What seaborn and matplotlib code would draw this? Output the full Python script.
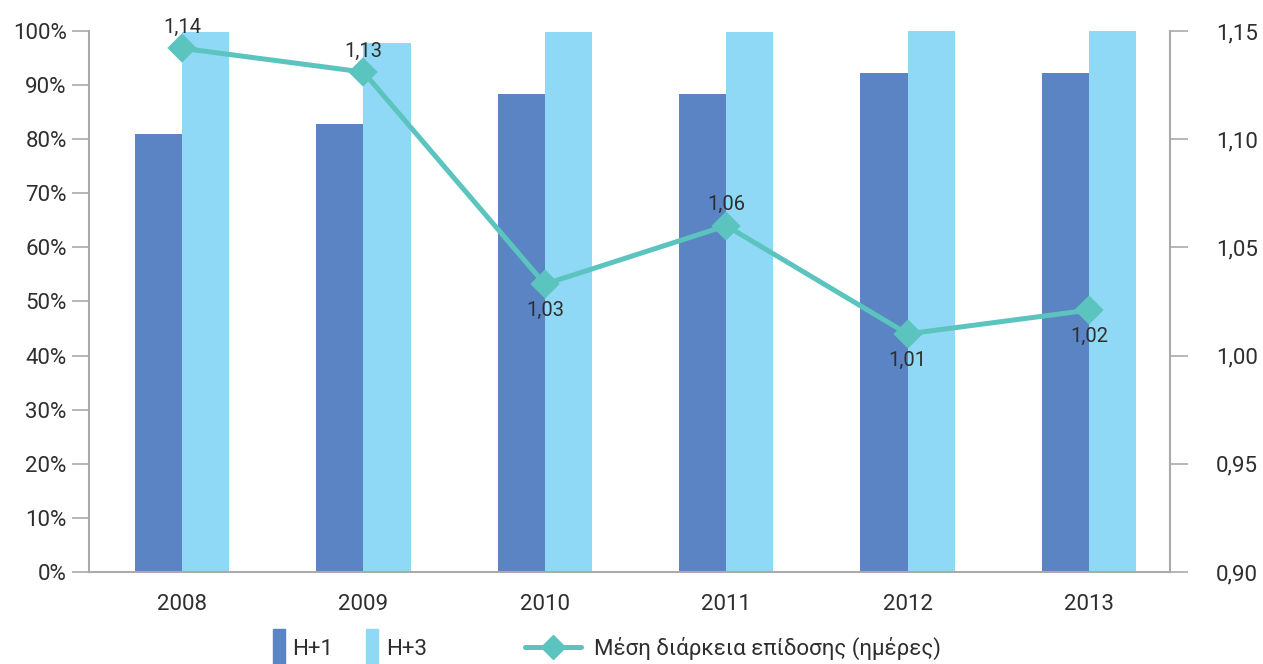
import pandas as pd
import numpy as np
import seaborn as sns
import matplotlib.pyplot as plt
from matplotlib.ticker import FuncFormatter, MultipleLocator
from matplotlib.patches import Patch
from matplotlib.lines import Line2D

years = ['2008', '2009', '2010', '2011', '2012', '2013']
h1 = [81.0, 82.8, 88.4, 88.4, 92.2, 92.2]
h3 = [99.8, 97.8, 99.8, 99.8, 100.0, 100.0]
duration = [1.142, 1.131, 1.033, 1.06, 1.01, 1.021]
dur_labels = ['1,14', '1,13', '1,03', '1,06', '1,01', '1,02']
label_above = [True, True, False, True, False, False]

c_h1 = '#5b84c4'
c_h3 = '#8fd9f6'
c_line = '#5bc4bf'
txt = '#2e2e2e'
spine = '#aaaaaa'

sns.set_style('white')
plt.rcParams['font.family'] = ['Roboto', 'DejaVu Sans']

df = pd.DataFrame({'year': years * 2,
                   'value': h1 + h3,
                   'series': ['H+1'] * 6 + ['H+3'] * 6})

fig = plt.figure(figsize=(12.63, 6.64), dpi=100)
ax = fig.add_axes([0.0705, 0.1386, 0.8559, 0.8148])

sns.barplot(data=df, x='year', y='value', hue='series', palette=[c_h1, c_h3],
            width=0.52, gap=0, saturation=1, linewidth=0, ax=ax, legend=False)
ax.set_ylim(0, 100)
ax.set_xlim(-0.513, 5.447)
ax.yaxis.set_major_locator(MultipleLocator(10))
ax.yaxis.set_major_formatter(FuncFormatter(lambda v, p: f'{v:.0f}%'))
ax.set_xlabel('')
ax.set_ylabel('')
ax.tick_params(axis='y', length=12, width=1.2, color=spine, pad=4,
               labelsize=16, labelcolor=txt)
ax.tick_params(axis='x', length=0, pad=16, labelsize=16, labelcolor=txt)
for s in ['top', 'right']:
    ax.spines[s].set_visible(False)
for s in ['left', 'bottom']:
    ax.spines[s].set_color(spine)
    ax.spines[s].set_linewidth(1.5)

ax2 = ax.twinx()
dfl = pd.DataFrame({'year': years, 'dur': duration})
sns.pointplot(data=dfl, x='year', y='dur', color=c_line, marker='D',
              markersize=12, linewidth=3.6, ax=ax2)
ax2.set_ylim(0.90, 1.15)
ax2.set_xlim(-0.513, 5.447)
ax2.yaxis.set_major_locator(MultipleLocator(0.05))
ax2.yaxis.set_major_formatter(FuncFormatter(lambda v, p: f'{v:.2f}'.replace('.', ',')))
ax2.set_ylabel('')
ax2.set_xlabel('')
ax2.tick_params(axis='y', length=13, width=1.2, color=spine, pad=20,
                labelsize=16, labelcolor=txt)
for s in ['top', 'left', 'bottom']:
    ax2.spines[s].set_visible(False)
ax2.spines['right'].set_visible(True)
ax2.spines['right'].set_color(spine)
ax2.spines['right'].set_linewidth(1.5)

for i, (v, lab, up) in enumerate(zip(duration, dur_labels, label_above)):
    ax2.annotate(lab, (i, v), xytext=(0, 15 if up else -19), textcoords='offset points',
                 ha='center', va='center', fontsize=14.5, color=txt)

bar_handles = [Patch(color=c_h1, label='H+1'), Patch(color=c_h3, label='H+3')]
fig.legend(handles=bar_handles, loc='center left', bbox_to_anchor=(0.2, 0.024),
           ncol=2, frameon=False, handlelength=0.55, handleheight=2.2,
           handletextpad=0.35, columnspacing=1.45, fontsize=16, labelcolor=txt)
line_handle = [Line2D([], [], color=c_line, marker='D', markersize=12, linewidth=3.6,
                      label='Μέση διάρκεια επίδοσης (ημέρες)')]
fig.legend(handles=line_handle, loc='center left', bbox_to_anchor=(0.4, 0.024),
           frameon=False, handlelength=2.5, handletextpad=0.6, fontsize=16,
           labelcolor=txt)

fig.savefig('out.png', dpi=100)
